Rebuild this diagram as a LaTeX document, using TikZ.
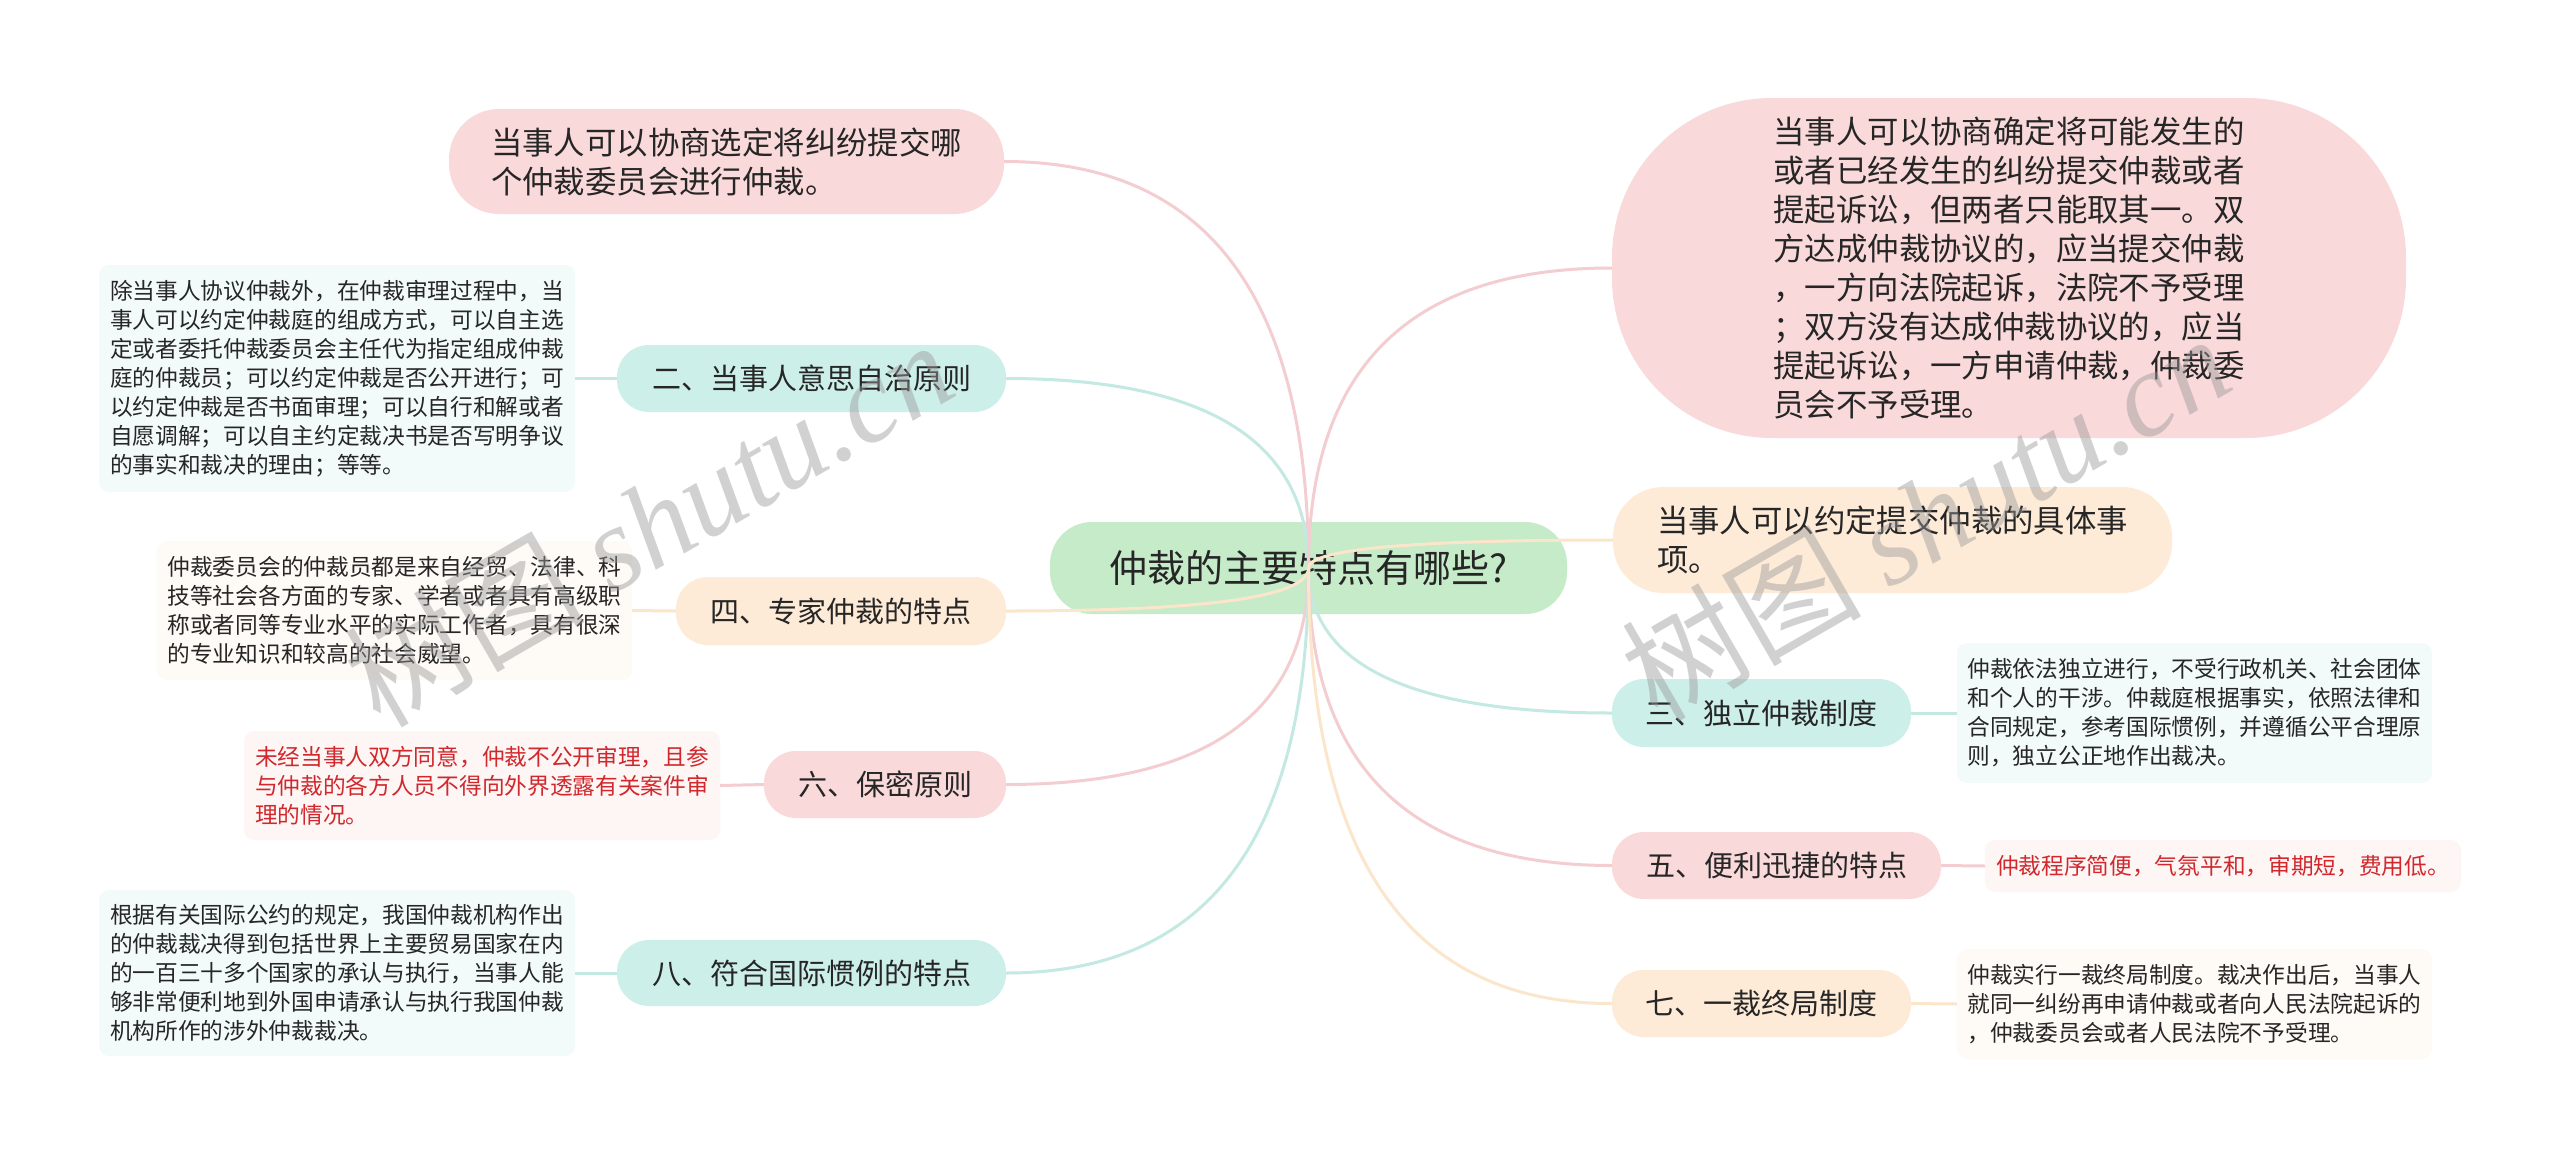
\documentclass[tikz,border=0pt]{standalone}
\usepackage{fontspec}
\setmainfont{Noto Sans CJK SC}
\newfontfamily\wmfont{Liberation Serif}
\usetikzlibrary{calc}
\definecolor{rootfill}{HTML}{C6EBC9}
\definecolor{pinkfill}{HTML}{FAD9DA}
\definecolor{tealfill}{HTML}{CDEFE9}
\definecolor{peachfill}{HTML}{FDEBD8}
\definecolor{pinkleaffill}{HTML}{FEF5F5}
\definecolor{tealleaffill}{HTML}{F3FBFA}
\definecolor{peachleaffill}{HTML}{FEFAF5}
\definecolor{pinkln}{HTML}{F4CDD0}
\definecolor{tealln}{HTML}{C3E9E2}
\definecolor{peachln}{HTML}{FBE6CC}
\definecolor{txt}{HTML}{262626}
\definecolor{redtxt}{HTML}{D0282C}
\definecolor{wmgray}{HTML}{9A9A9A}
\newcommand\myconn[2]{\draw[#1] (root.center) .. controls ($(root.center)!0.667!(root.center |- #2)$) and ($(#2)!0.667!(root.center |- #2)$) .. (#2);}
\begin{document}
\begin{tikzpicture}[x=1pt,y=-1pt,
  base/.style={inner sep=0pt, text=txt},
  rootbox/.style={base, fill=rootfill, rounded corners=42pt, minimum width=517pt, minimum height=92pt, font=\fontsize{38}{46}\selectfont},
  brtext/.style={base, align=center, rounded corners=32pt, font=\fontsize{29}{36}\selectfont},
  bigtext/.style={base, align=left, font=\fontsize{31.4}{39}\selectfont},
  pinkbr/.style={fill=pinkfill},
  tealbr/.style={fill=tealfill},
  peachbr/.style={fill=peachfill},
  leaf/.style={base, align=left, rounded corners=10pt, font=\fontsize{22.7}{29}\selectfont},
  pinkleaf/.style={leaf, fill=pinkleaffill, text=redtxt},
  tealleaf/.style={leaf, fill=tealleaffill},
  peachleaf/.style={leaf, fill=peachleaffill},
  ln/.style={line width=3pt},
  pinkline/.style={ln, draw=pinkln},
  tealline/.style={ln, draw=tealln},
  peachline/.style={ln, draw=peachln},
  wm/.style={rotate=30, text=wmgray, opacity=0.45, inner sep=0pt, font=\fontsize{120}{120}\selectfont}
]
\useasboundingbox (0,0) rectangle (2560,1157);
\fill[white] (0,0) rectangle (2560,1157);

% root
\node[rootbox] (root) at (1308.5,568) {仲裁的主要特点有哪些?};

% left branches
\node[bigtext, pinkbr, rounded corners=50pt, minimum width=555pt, minimum height=105pt] (L1) at (726.5,161.5)
  {当事人可以协商选定将纠纷提交哪\\个仲裁委员会进行仲裁。};
\node[brtext, tealbr, minimum width=389pt, minimum height=67pt] (L2) at (811.5,378.5) {二、当事人意思自治原则};
\node[brtext, peachbr, minimum width=330pt, minimum height=68pt] (L3) at (841,611) {四、专家仲裁的特点};
\node[brtext, pinkbr, minimum width=242pt, minimum height=67pt] (L4) at (885,784.5) {六、保密原则};
\node[brtext, tealbr, minimum width=389pt, minimum height=66pt] (L5) at (811.5,973) {八、符合国际惯例的特点};

% left leaves
\node[tealleaf, minimum width=476pt, minimum height=227pt] (L2leaf) at (337,378.5)
  {除当事人协议仲裁外，在仲裁审理过程中，当\\
   事人可以约定仲裁庭的组成方式，可以自主选\\
   定或者委托仲裁委员会主任代为指定组成仲裁\\
   庭的仲裁员；可以约定仲裁是否公开进行；可\\
   以约定仲裁是否书面审理；可以自行和解或者\\
   自愿调解；可以自主约定裁决书是否写明争议\\
   的事实和裁决的理由；等等。};
\node[peachleaf, minimum width=475pt, minimum height=139pt] (L3leaf) at (394.5,610.5)
  {仲裁委员会的仲裁员都是来自经贸、法律、科\\
   技等社会各方面的专家、学者或者具有高级职\\
   称或者同等专业水平的实际工作者，具有很深\\
   的专业知识和较高的社会威望。};
\node[pinkleaf, minimum width=476pt, minimum height=109pt] (L4leaf) at (482,785.5)
  {未经当事人双方同意，仲裁不公开审理，且参\\
   与仲裁的各方人员不得向外界透露有关案件审\\
   理的情况。};
\node[tealleaf, minimum width=476pt, minimum height=166pt] (L5leaf) at (337,973)
  {根据有关国际公约的规定，我国仲裁机构作出\\
   的仲裁裁决得到包括世界上主要贸易国家在内\\
   的一百三十多个国家的承认与执行，当事人能\\
   够非常便利地到外国申请承认与执行我国仲裁\\
   机构所作的涉外仲裁裁决。};

% right branches
\node[bigtext, pinkbr, rounded corners=160pt, minimum width=794pt, minimum height=340pt] (R1) at (2009,268)
  {当事人可以协商确定将可能发生的\\
   或者已经发生的纠纷提交仲裁或者\\
   提起诉讼，但两者只能取其一。双\\
   方达成仲裁协议的，应当提交仲裁\\
   ，一方向法院起诉，法院不予受理\\
   ；双方没有达成仲裁协议的，应当\\
   提起诉讼，一方申请仲裁，仲裁委\\
   员会不予受理。};
\node[bigtext, peachbr, rounded corners=50pt, minimum width=559pt, minimum height=106pt] (R2) at (1892.5,540)
  {当事人可以约定提交仲裁的具体事\\项。};
\node[brtext, tealbr, minimum width=299pt, minimum height=68pt] (R3) at (1761.5,713) {三、独立仲裁制度};
\node[brtext, pinkbr, minimum width=329pt, minimum height=67pt] (R4) at (1776.5,865.5) {五、便利迅捷的特点};
\node[brtext, peachbr, minimum width=299pt, minimum height=67pt] (R5) at (1761.5,1003.5) {七、一裁终局制度};

% right leaves
\node[tealleaf, minimum width=475pt, minimum height=140pt] (R3leaf) at (2194.5,713)
  {仲裁依法独立进行，不受行政机关、社会团体\\
   和个人的干涉。仲裁庭根据事实，依照法律和\\
   合同规定，参考国际惯例，并遵循公平合理原\\
   则，独立公正地作出裁决。};
\node[pinkleaf, minimum width=476pt, minimum height=52pt] (R4leaf) at (2223,866)
  {仲裁程序简便，气氛平和，审期短，费用低。};
\node[peachleaf, minimum width=475pt, minimum height=110pt] (R5leaf) at (2194.5,1004)
  {仲裁实行一裁终局制度。裁决作出后，当事人\\
   就同一纠纷再申请仲裁或者向人民法院起诉的\\
   ，仲裁委员会或者人民法院不予受理。};

% connectors root -> branches
\myconn{pinkline}{L1.east}
\myconn{tealline}{L2.east}
\myconn{peachline}{L3.east}
\myconn{pinkline}{L4.east}
\myconn{tealline}{L5.east}
\myconn{pinkline}{R1.west}
\myconn{peachline}{R2.west}
\myconn{tealline}{R3.west}
\myconn{pinkline}{R4.west}
\myconn{peachline}{R5.west}

% connectors branch -> leaf
\draw[tealline] (L2.west) -- (L2leaf.east);
\draw[peachline] (L3.west) -- (L3leaf.east);
\draw[pinkline] (L4.west) -- (L4leaf.east);
\draw[tealline] (L5.west) -- (L5leaf.east);
\draw[tealline] (R3.east) -- (R3leaf.west);
\draw[pinkline] (R4.east) -- (R4leaf.west);
\draw[peachline] (R5.east) -- (R5leaf.west);

% watermarks
\node[wm] (wm1) at (648,522) {树图 {\wmfont\itshape shutu.cn}};
\node[wm] (wm2) at (1925,516) {树图 {\wmfont\itshape shutu.cn}};
\end{tikzpicture}
\end{document}
